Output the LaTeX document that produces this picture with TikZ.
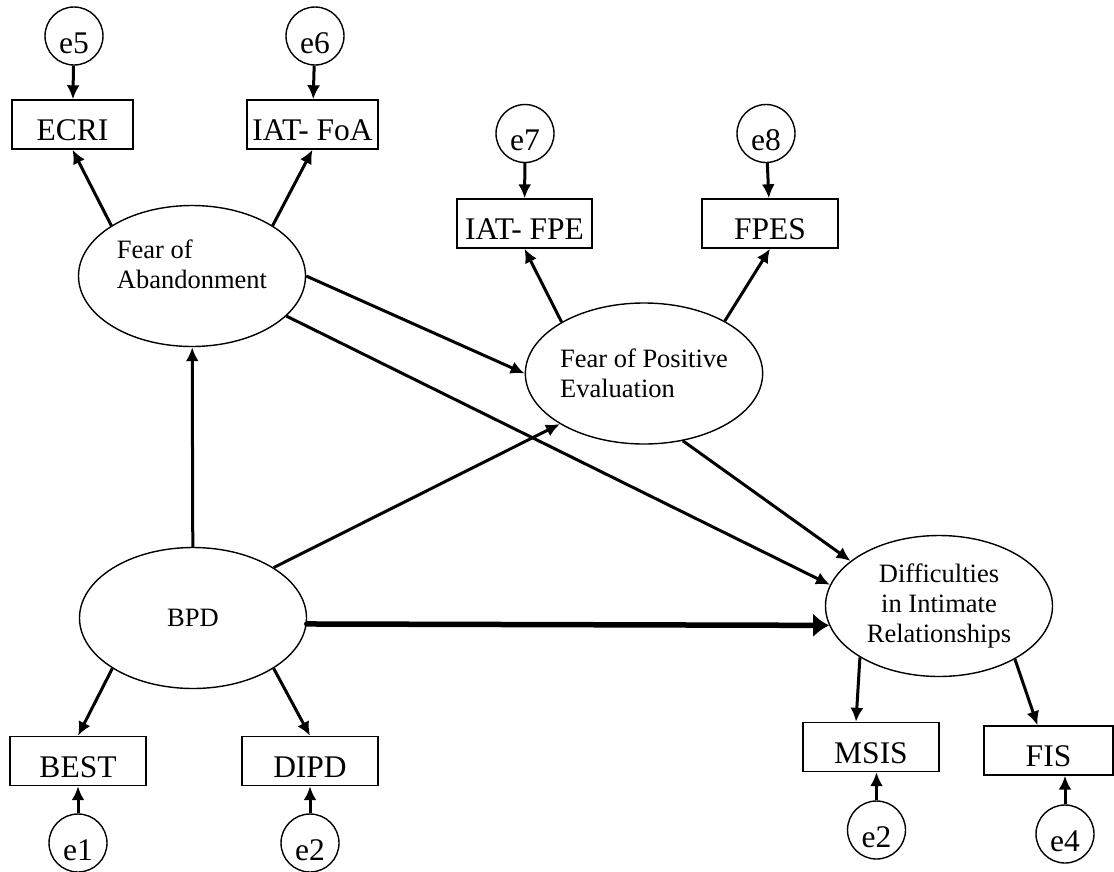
\documentclass[tikz,border=0pt]{standalone}
\usepackage{fontspec}
\setmainfont{Liberation Serif}
\usetikzlibrary{shapes.geometric, arrows.meta}

\begin{document}
\begin{tikzpicture}[x=1pt, y=-1pt,
  latent/.style={draw, ellipse, line width=1.4pt, minimum width=227pt, minimum height=141pt, inner sep=0pt, font=\fontsize{26.5}{30}\selectfont},
  observed/.style={draw, rectangle, line width=1.4pt, minimum width=136pt, minimum height=49pt, inner sep=0pt, text height=32pt, text depth=0pt, font=\fontsize{31.5}{34}\selectfont},
  error/.style={draw, circle, line width=1.4pt, minimum size=58pt, inner sep=0pt, text height=34pt, text depth=0pt, font=\fontsize{31.5}{34}\selectfont},
  regr/.style={line width=3pt, -{Latex[length=14pt,width=13pt]}},
  bigregr/.style={line width=5.5pt, line cap=round, -{Latex[length=16pt,width=24pt]}}]
\useasboundingbox (0,0) rectangle (1114,871);

% Latent variables
\node[latent, align=left, text depth=24pt] (foa) at (192,276) {Fear of\\Abandonment};
\node[latent, align=left] (fpe) at (644,373.5) {Fear of Positive\\Evaluation};
\node[latent] (bpd) at (193,618) {BPD};
\node[latent, align=center] (dir) at (939,606) {Difficulties\\in Intimate\\Relationships};

% Indicators
\node[observed, minimum width=121pt] (ecri) at (72.5,124.5) {ECRI};
\node[observed, minimum width=131pt] (iatfoa) at (312.5,124.5) {IAT- FoA};
\node[observed, minimum width=135pt] (iatfpe) at (524.5,223.5) {IAT- FPE};
\node[observed] (fpes) at (770,223.5) {FPES};
\node[observed] (best) at (78,761) {BEST};
\node[observed] (dipd) at (310,761) {DIPD};
\node[observed] (msis) at (871,747) {MSIS};
\node[observed, minimum width=129pt] (fis) at (1048.5,750.5) {FIS};

% Error terms
\node[error] (e5) at (74,36) {e5};
\node[error] (e6) at (315,36) {e6};
\node[error] (e7) at (525,133.5) {e7};
\node[error] (e8) at (766,133.5) {e8};
\node[error] (e1) at (78,843) {e1};
\node[error] (e2) at (310,843) {e2};
\node[error] (e2b) at (876.5,830) {e2};
\node[error] (e4) at (1065,834) {e4};

\draw[regr] (e5) -- (ecri);
\draw[regr] (e6) -- (iatfoa);
\draw[regr] (e7) -- (iatfpe);
\draw[regr] (e8) -- (fpes);
\draw[regr] (e1) -- (best);
\draw[regr] (e2) -- (dipd);
\draw[regr] (e2b) -- (e2b |- msis.south);
\draw[regr] (e4) -- (e4 |- fis.south);

% Loadings
\draw[regr] (foa.148) -- (ecri.south);
\draw[regr] (foa.32) -- (iatfoa.south);
\draw[regr] (fpe.148) -- (iatfpe.south);
\draw[regr] (fpe.33) -- (fpes.south);
\draw[regr] (bpd.-148) -- (best.north);
\draw[regr] (bpd.-32) -- (dipd.north);
\draw[regr] (dir.-147) -- ([xshift=-15pt]msis.north);
\draw[regr] (dir.-35) -- ([xshift=-11pt]fis.north);

% Structural paths
\draw[regr] (bpd) -- (foa);
\draw[regr] (bpd.32) -- (fpe.-149);
\draw[regr] (foa.0) -- (fpe.west);
\draw[regr] (foa.-23) -- (dir.169);
\draw[regr] (fpe.-60) -- (dir.153);
\draw[bigregr] (bpd.-3) -- (dir.190);
\end{tikzpicture}
\end{document}
